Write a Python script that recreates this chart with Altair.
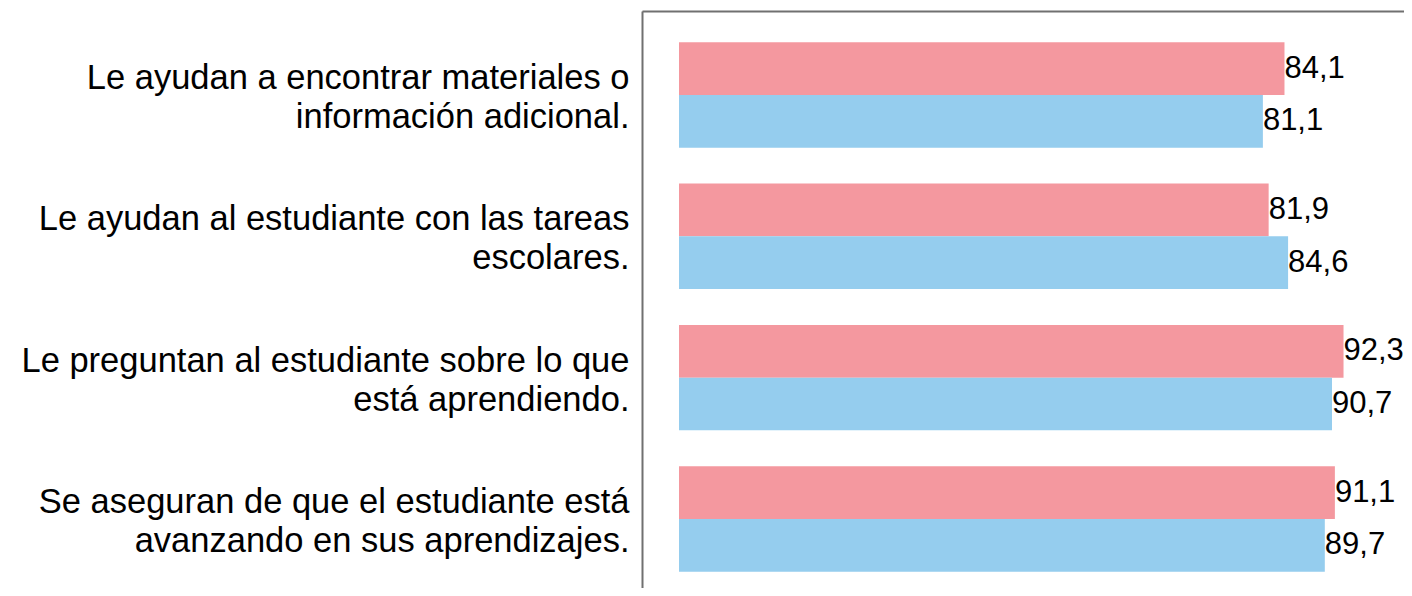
import altair as alt
import pandas as pd

categorias = [
    "Le ayudan a encontrar materiales o|información adicional.",
    "Le ayudan al estudiante con las tareas|escolares.",
    "Le preguntan al estudiante sobre lo que|está aprendiendo.",
    "Se aseguran de que el estudiante está|avanzando en sus aprendizajes.",
]
series = ["Serie 1", "Serie 2"]
valores_serie1 = [84.1, 81.9, 92.3, 91.1]
valores_serie2 = [81.1, 84.6, 90.7, 89.7]
colores = ["#F4989F", "#95CDEE"]

rows = []
for c, v1, v2 in zip(categorias, valores_serie1, valores_serie2):
    rows.append({"cat": c, "serie": series[0], "valor": v1})
    rows.append({"cat": c, "serie": series[1], "valor": v2})
df = pd.DataFrame(rows)

y_enc = alt.Y(
    "cat:N",
    sort=categorias,
    title=None,
    scale=alt.Scale(paddingInner=0.254, paddingOuter=0.168, align=0.657),
    axis=alt.Axis(
        orient="left",
        ticks=False,
        grid=False,
        domain=True,
        domainColor="#707070",
        domainWidth=2,
        labelExpr="split(datum.label, '|')",
        labelFont="Liberation Sans",
        labelFontSize=34.5,
        labelLineHeight=39,
        labelColor="#000000",
        labelAlign="right",
        labelBaseline="middle",
        labelLimit=0,
        labelPadding=13,
        labelOffset=-16,
    ),
)
yoff = alt.YOffset("serie:N", sort=series, scale=alt.Scale(paddingInner=0, paddingOuter=0))
x_enc = alt.X(
    "valor:Q",
    title=None,
    scale=alt.Scale(domain=[-5.14, 100.7], nice=False, zero=False),
    axis=alt.Axis(
        orient="top",
        labels=False,
        ticks=False,
        grid=False,
        domain=True,
        domainColor="#707070",
        domainWidth=2,
    ),
)

base = alt.Chart(df)
bars = base.mark_bar(strokeWidth=0).encode(
    y=y_enc,
    yOffset=yoff,
    x=x_enc,
    color=alt.Color("serie:N", sort=series, scale=alt.Scale(domain=series, range=colores), legend=None),
)
texts = base.transform_calculate(
    etiqueta="replace(format(datum.valor, '.1f'), '.', ',')"
).mark_text(
    align="left", baseline="middle", dx=0, font="Liberation Sans", fontSize=31, color="#000000"
).encode(
    y=alt.Y("cat:N", sort=categorias),
    yOffset=alt.YOffset("serie:N", sort=series),
    x=alt.X("valor:Q"),
    text="etiqueta:N",
)

chart = (
    alt.layer(bars, texts)
    .properties(
        width=762,
        height=577,
        autosize=alt.AutoSizeParams(type="none"),
        padding={"left": 634, "top": 3, "right": 0, "bottom": 0},
    )
    .configure_view(stroke=None)
    .configure(background="#ffffff")
)

chart.save("out.html", embed_options={"renderer": "svg", "actions": False})
